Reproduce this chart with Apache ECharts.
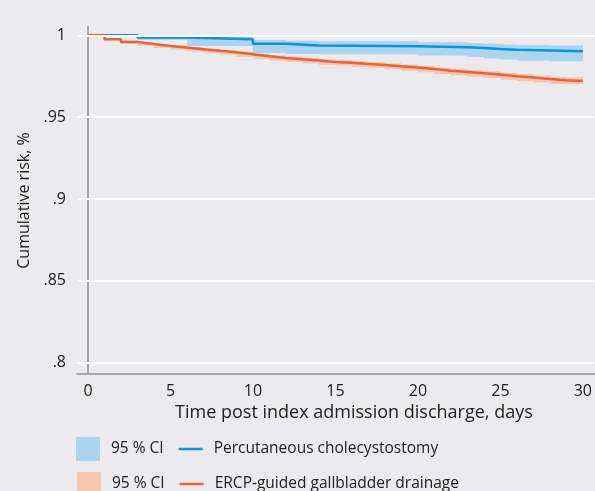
<!DOCTYPE html>
<html>
<head>
<meta charset="utf-8">
<script src="https://cdn.jsdelivr.net/npm/echarts@6/dist/echarts.min.js"></script>
<style>
html,body{margin:0;padding:0;background:#ebebed;}
#chart{width:595px;height:491px;}
</style>
</head>
<body>
<div id="chart"></div>
<script>
// Percutaneous cholecystostomy (step days, cumulative value, 95% CI)
var blueDays = [0, 3, 6, 10, 12, 14, 20, 23, 24, 25, 26, 28, 30];
var blueRisk = [1, 0.9986, 0.9976, 0.9949, 0.9938, 0.9933, 0.9927, 0.9922, 0.9916, 0.9912, 0.9907, 0.9902, 0.9902];
var blueLo   = [1, 0.9972, 0.9935, 0.9892, 0.9886, 0.9884, 0.9876, 0.9868, 0.9859, 0.9852, 0.9846, 0.9841, 0.9841];
var blueHi   = [1, 1.0000, 0.9993, 0.9971, 0.9966, 0.9964, 0.9957, 0.9953, 0.9948, 0.9944, 0.9940, 0.9937, 0.9937];

// ERCP-guided gallbladder drainage
var orangeDays = [0,1,2,3,4,5,6,7,8,9,10,11,12,13,14,15,16,17,18,19,20,21,22,23,24,25,26,27,28,29,30];
var orangeRisk = [1,0.9976,0.9959,0.9947,0.9935,0.9925,0.9915,0.9905,0.9896,0.9884,0.9872,0.9862,0.9854,0.9846,0.9837,0.9833,0.9825,0.9819,0.9811,0.9803,0.9794,0.9784,0.9776,0.9768,0.9760,0.9750,0.9742,0.9733,0.9725,0.9721,0.9721];
var orangeLo   = [1,0.9968,0.9949,0.9936,0.9923,0.9912,0.9901,0.9891,0.9881,0.9868,0.9856,0.9845,0.9837,0.9828,0.9819,0.9815,0.9806,0.9800,0.9792,0.9783,0.9774,0.9764,0.9755,0.9747,0.9739,0.9729,0.9720,0.9711,0.9703,0.9699,0.9699];
var orangeHi   = [1,0.9983,0.9968,0.9957,0.9946,0.9937,0.9928,0.9918,0.9910,0.9899,0.9888,0.9878,0.9870,0.9863,0.9854,0.9850,0.9843,0.9837,0.9830,0.9822,0.9813,0.9804,0.9796,0.9788,0.9781,0.9771,0.9763,0.9754,0.9747,0.9743,0.9743];

var xTicks = [0, 5, 10, 15, 20, 25, 30];
var yTicks = [0.8, 0.85, 0.9, 0.95, 1];
var yTickLabels = ['.8', '.85', '.9', '.95', '1'];

var FONT = 'Open Sans';
var TXT = '#222222';
var BLUE = '#0e93d8', BLUE_CI = '#aad4f0';
var ORANGE = '#e6643a', ORANGE_CI = '#f5c7b0';
var LINE_ICON = 'path://M0,0 L24,0 L24,2.5 L0,2.5 Z';

function pairs(xs, ys) { return xs.map(function (x, i) { return [x, ys[i]]; }); }

// stepped confidence band drawn as one polygon through the axis scales
function bandRenderer(days, lo, hi, color) {
  return function (params, api) {
    if (params.dataIndex !== 0) return null;
    var pts = [], n = days.length, i;
    for (i = 0; i < n; i++) {
      pts.push(api.coord([days[i], hi[i]]));
      if (i < n - 1) pts.push(api.coord([days[i + 1], hi[i]]));
    }
    for (i = n - 1; i >= 0; i--) {
      if (i < n - 1) pts.push(api.coord([days[i + 1], lo[i]]));
      pts.push(api.coord([days[i], lo[i]]));
    }
    return {type: 'polygon', shape: {points: pts}, style: {fill: color, stroke: null}};
  };
}

function legendBlock(top, left, ciName, ciColor, lineName, lineColor) {
  return {
    left: left, top: top, padding: 0, orient: 'horizontal', itemWidth: 24, itemHeight: 24, itemGap: 15,
    textStyle: {fontFamily: FONT, fontSize: 15.5, color: TXT, padding: [0, 0, 0, 6]},
    formatter: function (n) { return n.indexOf('CI') >= 0 ? '95 % CI' : n; },
    selectedMode: false,
    data: [
      {name: ciName, icon: 'rect', itemStyle: {color: ciColor, borderWidth: 0}},
      {name: lineName, icon: LINE_ICON, itemStyle: {color: lineColor, borderWidth: 0}}
    ]
  };
}

var chart = echarts.init(document.getElementById('chart'), null, {renderer: 'canvas'});
chart.setOption({
  backgroundColor: '#ebebed',
  animation: false,
  textStyle: {fontFamily: FONT, color: TXT},
  grid: {left: 77, top: 27, right: 0, bottom: 117, containLabel: false},
  xAxis: {
    type: 'value', min: -0.667, max: 30.727,
    name: 'Time post index admission discharge, days',
    nameLocation: 'middle', nameGap: 30,
    nameTextStyle: {fontFamily: FONT, fontSize: 18, color: TXT, padding: [0, 0, 0, 36]},
    axisLine: {show: true, lineStyle: {color: '#a6a6a6', width: 2}},
    axisTick: {show: false},
    splitLine: {show: false},
    axisLabel: {customValues: xTicks, fontFamily: FONT, fontSize: 16, color: TXT, margin: 9}
  },
  yAxis: {
    type: 'value', min: 0.7931, max: 1.00507,
    name: 'Cumulative risk, %',
    nameLocation: 'middle', nameGap: 42, nameRotate: 90,
    nameTextStyle: {fontFamily: FONT, fontSize: 16, color: TXT},
    axisLine: {show: true, lineStyle: {color: '#a6a6a6', width: 2}},
    axisTick: {show: false},
    splitLine: {show: false},
    axisLabel: {
      customValues: yTicks, fontFamily: FONT, fontSize: 16, color: TXT, margin: 11,
      formatter: function (v) {
        for (var i = 0; i < yTicks.length; i++) if (Math.abs(yTicks[i] - v) < 1e-6) return yTickLabels[i];
        return '';
      }
    }
  },
  legend: [
    legendBlock(437, 76, 'Blue CI', BLUE_CI, 'Percutaneous cholecystostomy', BLUE),
    legendBlock(472, 77, 'Orange CI', ORANGE_CI, 'ERCP-guided gallbladder drainage', ORANGE)
  ],
  series: [
    {
      name: 'gridlines', type: 'line', data: [], z: 0, silent: true,
      markLine: {
        silent: true, symbol: 'none', label: {show: false}, animation: false,
        lineStyle: {color: '#ffffff', width: 2, type: 'solid'},
        data: yTicks.map(function (v) { return {yAxis: v}; })
      }
    },
    {
      name: 'Blue CI', type: 'custom', z: 1, silent: true,
      itemStyle: {color: BLUE_CI},
      data: blueDays.map(function (d, i) { return [d, blueLo[i], blueHi[i]]; }),
      encode: {x: 0, y: [1, 2]},
      renderItem: bandRenderer(blueDays, blueLo, blueHi, BLUE_CI)
    },
    {
      name: 'Orange CI', type: 'custom', z: 1, silent: true,
      itemStyle: {color: ORANGE_CI},
      data: orangeDays.map(function (d, i) { return [d, orangeLo[i], orangeHi[i]]; }),
      encode: {x: 0, y: [1, 2]},
      renderItem: bandRenderer(orangeDays, orangeLo, orangeHi, ORANGE_CI)
    },
    {
      name: 'Percutaneous cholecystostomy', type: 'line', step: 'end', symbol: 'none', z: 3,
      data: pairs(blueDays, blueRisk), itemStyle: {color: BLUE}, lineStyle: {color: BLUE, width: 2.5}
    },
    {
      name: 'ERCP-guided gallbladder drainage', type: 'line', step: 'end', symbol: 'none', z: 4,
      data: pairs(orangeDays, orangeRisk), itemStyle: {color: ORANGE}, lineStyle: {color: ORANGE, width: 2.5}
    }
  ]
});
</script>
</body>
</html>
